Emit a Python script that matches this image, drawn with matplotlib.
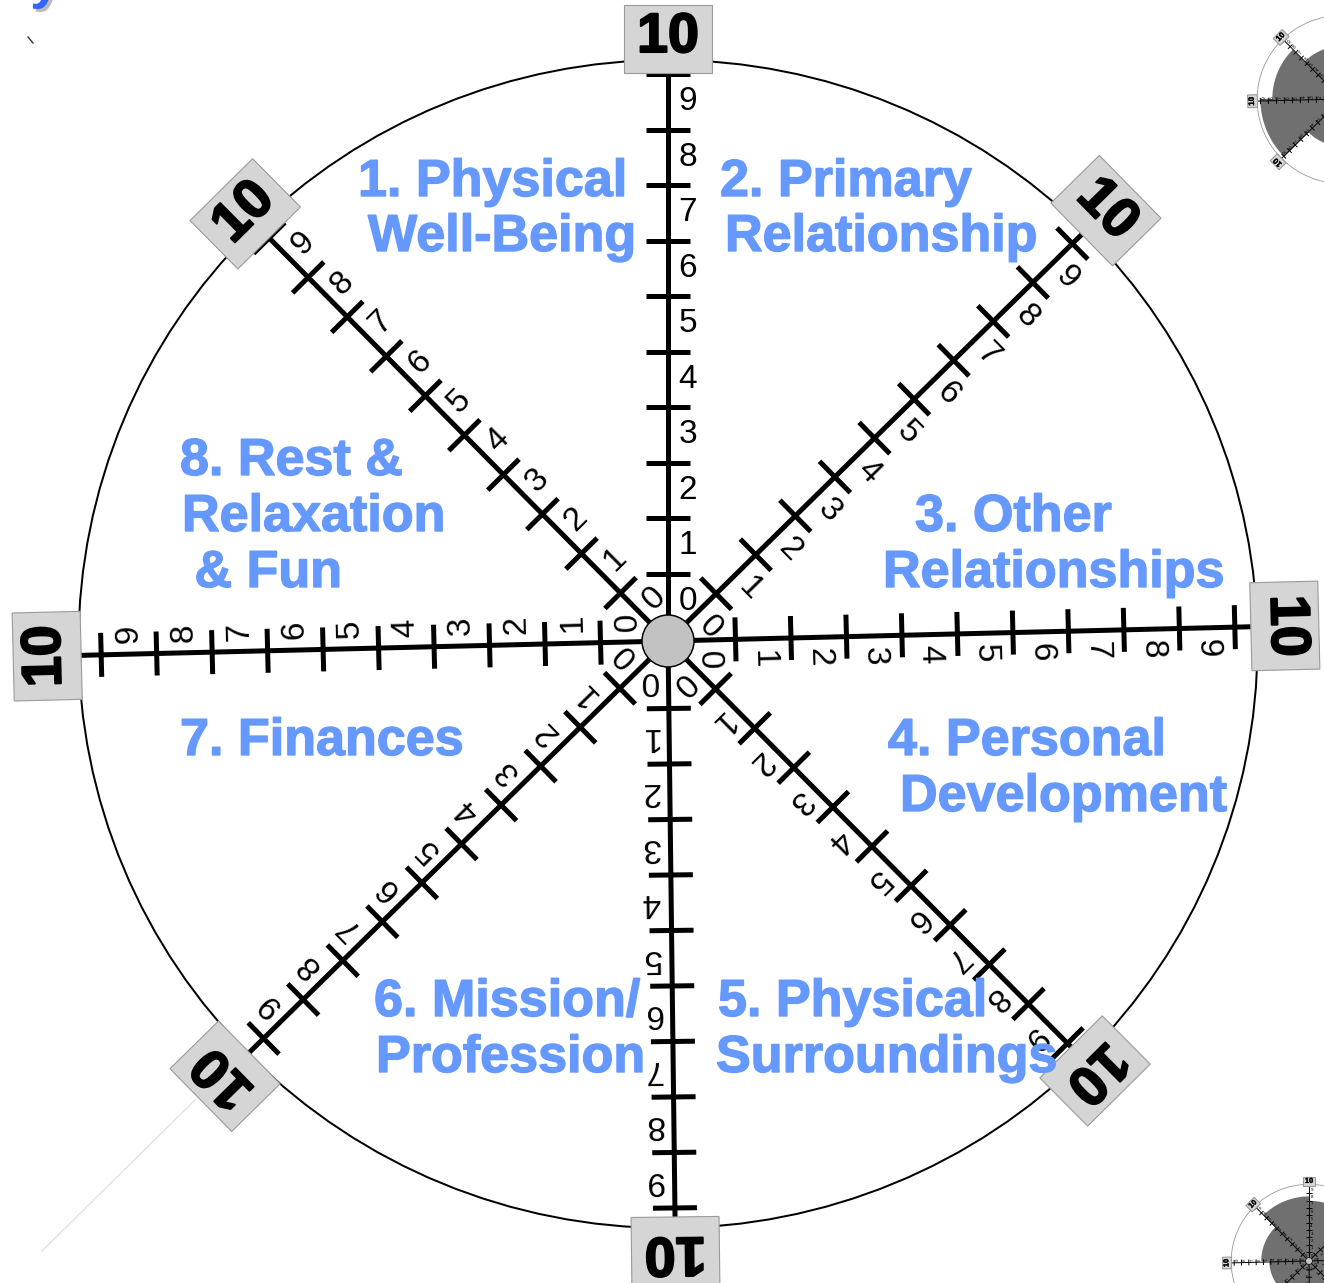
import numpy as np
import matplotlib
matplotlib.use("Agg")
import matplotlib.pyplot as plt
import matplotlib.patheffects as pe
from matplotlib.patches import Polygon, Ellipse, Circle

# wheel data
categories = [
    ["1. Physical", "Well-Being"],
    ["2. Primary", "Relationship"],
    ["3. Other", "Relationships"],
    ["4. Personal", "Development"],
    ["5. Physical", "Surroundings"],
    ["6. Mission/", "Profession"],
    ["7. Finances"],
    ["8. Rest &", "Relaxation", " & Fun"],
]
scale_values = list(range(0, 10))       # numbers printed along each spoke
max_value = 10                          # printed in the grey end boxes

# the two small example wheels cut off at the right edge
thumb_top_scores = [6.4, 6.0, 5.0, 6.0, 6.0, 5.7, 10.0, 8.5]
thumb_bottom_scores = [8.6, 8.0, 6.0, 6.0, 6.0, 6.0, 5.2, 6.3]

# layout (pixels, y down)
W, H = 1324, 1283
CX, CY = 668, 641
SPOKES = [0, 45.5, 88.6, 135.2, 179.3, 225.5, 268.6, 315.3]
BOX_D = [602, 614, 617, 606, 610, 621, 621, 601]
R0, STEP = 12, 55.5
label_pos = [
    [(358, 196), (368, 251)],
    [(720, 196), (725, 251)],
    [(915, 531), (883, 587)],
    [(888, 755), (900, 811)],
    [(718, 1016), (716, 1072)],
    [(374, 1016), (376, 1072)],
    [(180, 755)],
    [(180, 475), (182, 531), (180, 587)],
]
BLUE = "#6699ff"
PT = 0.72  # points per pixel at dpi 100
DIGITS = ["Liberation Sans Narrow", "Liberation Sans", "DejaVu Sans"]


def pt(cx, cy, th, d, o=0.0):
    t = np.radians(th)
    x = cx + d * np.sin(t) + o * np.cos(t)
    y = cy - d * np.cos(t) + o * np.sin(t)
    return x, y


def wheel(ax, cx, cy, s, scores=None, ring="black"):
    if scores is not None:
        for i, sc in enumerate(scores):
            t = np.radians(np.linspace(45 * (i - 1), 45 * i, 40))
            r = (R0 + STEP * sc) * s
            xs = np.concatenate([[cx], cx + r * np.sin(t), [cx]])
            ys = np.concatenate([[cy], cy - r * np.cos(t), [cy]])
            ax.fill(xs, ys, color="#707070", lw=0, zorder=1)

    ax.add_patch(Ellipse((cx, cy + 3 * s), 1179 * s, 1168 * s, fill=False,
                         ec=ring, lw=max(2 * PT * s, 0.6), zorder=1.5))

    lw = max(5 * PT * s, 0.7)
    for th, bd in zip(SPOKES, BOX_D):
        x1, y1 = pt(cx, cy, th, (bd - 30) * s)
        ax.plot([cx, x1], [cy, y1], color="black", lw=lw,
                solid_capstyle="butt", zorder=2)
        for v in range(1, max_value + 1):
            d = (R0 + STEP * v) * s
            a = pt(cx, cy, th, d, -22 * s)
            b = pt(cx, cy, th, d, 22 * s)
            ax.plot([a[0], b[0]], [a[1], b[1]], color="black", lw=lw,
                    solid_capstyle="butt", zorder=2)
        for v in scale_values:
            x, y = pt(cx, cy, th, (R0 + STEP * (v + 0.5)) * s, 20 * s)
            ax.text(x, y, str(v), rotation=-th, ha="center", va="center",
                    rotation_mode="anchor", fontsize=24 * s, family=DIGITS,
                    color="black", zorder=3)
        # grey end box with 10
        corners = [pt(cx, cy, th, (bd + a * 34) * s, b * 44 * s)
                   for a, b in [(-1, -1), (-1, 1), (1, 1), (1, -1)]]
        ax.add_patch(Polygon(corners, closed=True, fc="#d5d5d5",
                             ec="#9a9a9a", lw=0.8, zorder=4))
        x, y = pt(cx, cy, th, (bd + 1) * s)
        ax.text(x, y, str(max_value), rotation=-th, rotation_mode="anchor",
                ha="center", va="center", fontsize=40 * s,
                family="Liberation Sans", fontweight="bold", color="black",
                path_effects=[pe.withStroke(linewidth=1.5 * s,
                                            foreground="black")],
                zorder=5)

    ax.add_patch(Circle((cx, cy), 26 * s, fc="#c2c2c2", ec="black",
                        lw=max(1.5 * PT * s, 0.5), zorder=6))


def main():
    fig = plt.figure(figsize=(W / 100, H / 100), dpi=100)
    ax = fig.add_axes([0, 0, 1, 1])
    ax.set_xlim(0, W)
    ax.set_ylim(H, 0)
    ax.axis("off")

    # main wheel
    wheel(ax, CX, CY, 1.0)

    # little example wheels at the right edge
    wheel(ax, 1342, 99, 0.144, thumb_top_scores, ring="#999999")
    wheel(ax, 1309, 1261, 0.132, thumb_bottom_scores, ring="#999999")

    # category labels
    for lines, pos in zip(categories, label_pos):
        for text, (x, y) in zip(lines, pos):
            ax.text(x, y, text, ha="left", va="baseline", fontsize=37.5,
                    family="Liberation Sans", fontweight="bold", color=BLUE,
                    path_effects=[pe.withStroke(linewidth=1.0,
                                                foreground=BLUE)],
                    zorder=7)

    # stray bits from the page around the chart
    ax.text(33, 0, "y", fontsize=40, fontweight="bold", color="#bbbbbb",
            family="Liberation Sans", va="baseline", zorder=7)
    ax.text(30, -3, "y", fontsize=40, fontweight="bold", color="#3366ff",
            family="Liberation Sans", va="baseline", zorder=8)
    ax.plot([28, 33], [37, 43], color="#333333", lw=1)
    ax.plot([195, 42], [1100, 1251], color="#e2e2e2", lw=1, zorder=0)

    fig.savefig("out.png", dpi=100)


if __name__ == "__main__":
    main()
